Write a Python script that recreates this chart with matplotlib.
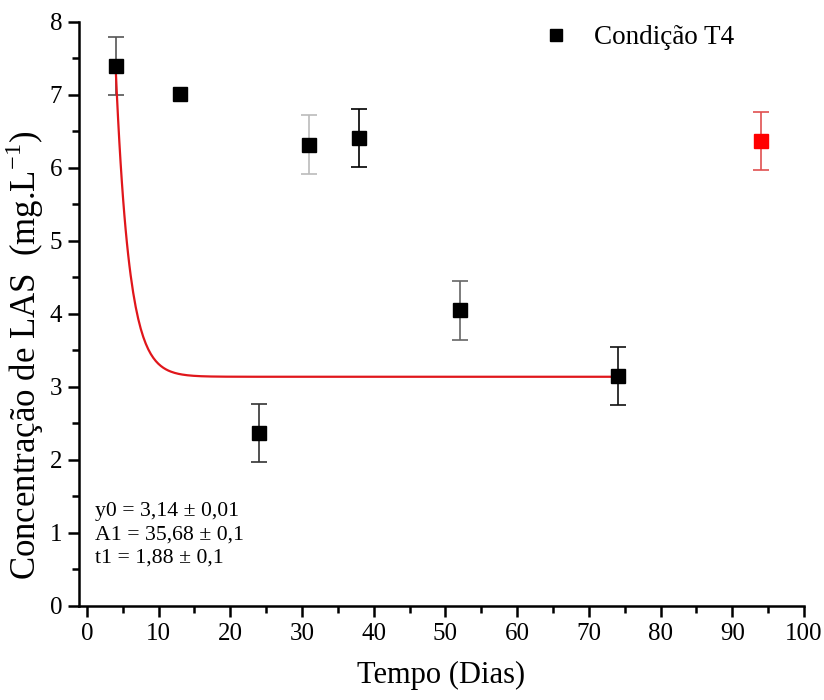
import matplotlib
matplotlib.use('Agg')
import matplotlib.pyplot as plt
import numpy as np
from matplotlib.ticker import MultipleLocator

plt.rcParams['font.family'] = ['Liberation Serif', 'DejaVu Serif']
plt.rcParams['mathtext.fontset'] = 'custom'
plt.rcParams['mathtext.rm'] = 'Liberation Serif'

# data
dias = [4, 13, 24, 31, 38, 52, 74]
las = [7.40, 7.02, 2.37, 6.32, 6.41, 4.05, 3.15]
erro = [0.40, 0.0, 0.40, 0.40, 0.40, 0.40, 0.40]
cor_erro = ['#555555', '#000000', '#333333', '#bbbbbb', '#000000', '#666666', '#111111']

dia_extra = [94]
las_extra = [6.37]
erro_extra = [0.40]

# exponential decay fit parameters
y0 = 3.14
A1 = 35.68
t1 = 1.88

fig = plt.figure(figsize=(8.24, 7.0), dpi=100)
ax = fig.add_axes([0.0959, 0.1343, 0.8798, 0.8343])

# fitted curve
xf = np.linspace(dias[0], dias[-1], 400)
yf = y0 + A1 * np.exp(-xf / t1)
ax.plot(xf, yf, color='#e0161b', lw=1.6, zorder=2)

for xi, yi, ei, ci in zip(dias, las, erro, cor_erro):
  if ei > 0:
    ax.errorbar(xi, yi, yerr=ei, fmt='none', ecolor=ci, elinewidth=1.2,
                capsize=5.5, capthick=1.2, zorder=1)
ax.plot(dias, las, 's', color='black', ms=9.5, zorder=3, label='Condição T4')

ax.errorbar(dia_extra, las_extra, yerr=erro_extra, fmt='s', color='red',
            ms=9.5, ecolor='#e05050', elinewidth=1.2, capsize=5.5, capthick=1.2, zorder=3)

ax.set_xlim(-1.1, 100)
ax.set_ylim(0, 8)
ax.xaxis.set_major_locator(MultipleLocator(10))
ax.xaxis.set_minor_locator(MultipleLocator(5))
ax.yaxis.set_major_locator(MultipleLocator(1))
ax.yaxis.set_minor_locator(MultipleLocator(0.5))

for s in ['top', 'right']:
  ax.spines[s].set_visible(False)
for s in ['left', 'bottom']:
  ax.spines[s].set_linewidth(1.8)

ax.tick_params(which='major', direction='out', length=8, width=1.8, labelsize=18, pad=4)
ax.tick_params(which='minor', direction='out', length=5, width=1.8)

ax.set_xlabel('Tempo (Dias)', fontsize=22, labelpad=12)
ax.set_ylabel('Concentração de LAS  (mg.L$^{\\mathregular{-1}}$)', fontsize=25)
ax.yaxis.set_label_coords(-0.045, 0.43)

ax.text(0.022, 0.178, 'y0 = 3,14 ± 0,01\nA1 = 35,68 ± 0,1\nt1 = 1,88 ± 0,1',
        transform=ax.transAxes, fontsize=15.7, linespacing=1.3, va='top', ha='left')

ax.legend(loc='center left', bbox_to_anchor=(0.639, 0.9726), frameon=False, fontsize=19.5,
          handlelength=1.0, handletextpad=0.9, borderpad=0, borderaxespad=0, markerscale=0.9)

fig.savefig('out.png', dpi=100)
